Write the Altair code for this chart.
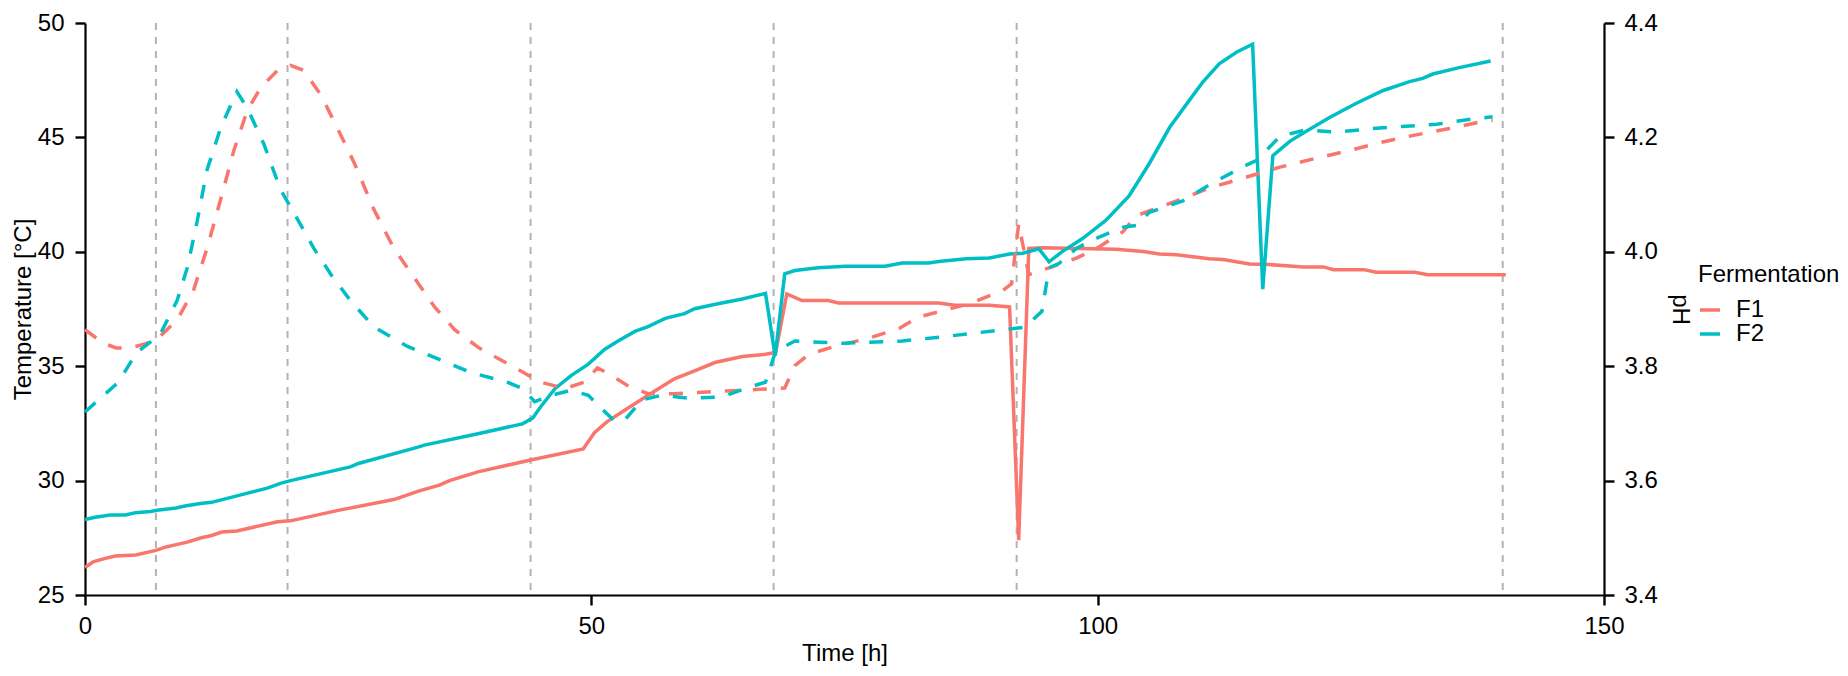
import altair as alt
import pandas as pd

# ---- data ----
phase_lines = [7, 20, 44, 68, 92, 140]

temp_f1_t = [0, 0.8, 2, 3, 5, 7, 8, 9, 10, 11.5, 12.5, 13.5, 15, 17, 19, 20.3, 25, 30.5, 32, 33,
             35, 36, 38.8, 44, 49.2, 50.3, 51.6, 53.6, 55.6, 58.2, 60.2, 62.2, 64.9, 67.2, 68.2,
             69.3, 70.8, 73.4, 74.4, 84.3, 85.9, 89.3, 91.3, 92.2, 93.2, 94.5, 101.8, 104.5,
             106.1, 107.8, 109.4, 111.0, 112.4, 115.0, 117.0, 119.3, 120.3, 122.3, 123.3, 126.3,
             127.5, 131.3, 132.6, 140.3]
temp_f1 = [26.2, 26.45, 26.6, 26.7, 26.75, 26.95, 27.1, 27.2, 27.3, 27.5, 27.6, 27.75, 27.8, 28.0,
           28.2, 28.24, 28.7, 29.17, 29.4, 29.55, 29.8, 30.0, 30.38, 30.9, 31.38, 32.09, 32.59,
           33.16, 33.73, 34.45, 34.8, 35.16, 35.42, 35.52, 35.6, 38.16, 37.87, 37.87, 37.76, 37.76,
           37.66, 37.66, 37.59, 27.4, 40.15, 40.18, 40.11, 40.01, 39.9, 39.87, 39.78, 39.7, 39.66,
           39.47, 39.44, 39.37, 39.34, 39.34, 39.22, 39.22, 39.11, 39.11, 39.0, 39.0]

temp_f2_t = [0, 1, 2.5, 4, 5, 6.5, 7.1, 9, 10, 11.4, 12.5, 18, 19.3, 20.3, 26.2, 27, 32.8, 33.5,
             38.8, 43.2, 44.2, 45.0, 46.4, 48.0, 49.7, 51.3, 52.6, 54.3, 55.6, 57.3, 59.2, 60.2,
             62.5, 64.9, 67.2, 68.15, 69.1, 70.1, 72.4, 75.1, 79.0, 80.7, 83.3, 84.3, 87.0, 89.3,
             91.3, 92.6, 94.2, 95.2, 96.5, 98.5, 100.8, 103.1, 105.1, 107.1, 109.1, 110.4, 112.0,
             113.7, 115.3, 116.3, 117.3, 119.0, 120.6, 122.9, 125.5, 128.2, 130.8, 132.1, 133.1,
             135.7, 138.8]
temp_f2 = [28.3, 28.4, 28.5, 28.5, 28.6, 28.65, 28.7, 28.8, 28.9, 29.0, 29.05, 29.67, 29.88, 30.0,
           30.6, 30.75, 31.45, 31.55, 32.05, 32.48, 32.73, 33.23, 34.02, 34.59, 35.09, 35.73,
           36.09, 36.52, 36.73, 37.09, 37.3, 37.51, 37.73, 37.94, 38.18, 35.45, 39.04, 39.18,
           39.3, 39.37, 39.37, 39.51, 39.51, 39.58, 39.7, 39.73, 39.9, 39.94, 40.13, 39.56, 40.01,
           40.58, 41.37, 42.44, 43.86, 45.43, 46.65, 47.43, 48.22, 48.72, 49.07, 38.37, 44.2,
           44.84, 45.27, 45.87, 46.48, 47.05, 47.44, 47.58, 47.77, 48.05, 48.34]

ph_f1_t = [0, 1.8, 3.1, 4.5, 6.1, 7.4, 9.1, 10.7, 12.05, 13.4, 14.7, 16.0, 17.3, 19.0, 20.3, 21.6,
           23.3, 24.9, 26.6, 28.5, 30.5, 32.5, 34.5, 36.5, 38.9, 42.1, 45.0, 47.4, 49.3, 50.6,
           51.6, 53.6, 55.6, 58.2, 61.5, 64.9, 69.1, 70.1, 71.5, 74.1, 77.4, 80.4, 82.3, 87.3,
           90.6, 91.5, 92.2, 93.2, 95.2, 97.9, 99.9, 102.5, 103.8, 107.8, 111.1, 114.4, 118.0,
           121.2, 124.6, 127.9, 131.3, 134.6, 138.0, 139.0]
ph_f1 = [3.864, 3.840, 3.832, 3.832, 3.840, 3.852, 3.881, 3.932, 4.006, 4.092, 4.177, 4.246,
         4.286, 4.317, 4.326, 4.317, 4.274, 4.217, 4.155, 4.075, 4.006, 3.955, 3.904, 3.864,
         3.832, 3.801, 3.772, 3.761, 3.772, 3.797, 3.788, 3.766, 3.752, 3.752, 3.755, 3.758,
         3.762, 3.801, 3.821, 3.835, 3.849, 3.866, 3.886, 3.909, 3.932, 3.944, 4.049, 3.960,
         3.972, 3.989, 4.006, 4.035, 4.063, 4.089, 4.112, 4.129, 4.148, 4.162, 4.176, 4.191,
         4.204, 4.215, 4.228, 4.230]

ph_f2_t = [0, 3.3, 5.1, 7.4, 9.1, 10.1, 11.06, 12.05, 13.4, 15.0, 16.0, 17.65, 19.3, 20.6, 22.6,
           24.3, 26.2, 28.5, 31.8, 35.1, 38.1, 41.7, 43.2, 44.4, 46.0, 48.0, 49.7, 51.0, 52.3,
           53.3, 55.0, 56.9, 59.6, 62.9, 65.2, 67.2, 68.2, 70.1, 74.8, 80.7, 85.0, 90.8, 92.8,
           94.5, 95.2, 96.2, 97.9, 99.8, 102.5, 103.8, 105.1, 108.4, 111.1, 114.4, 115.7, 117.3,
           118.0, 120.5, 123.6, 126.8, 130.0, 133.5, 136.9, 139.0]
ph_f2 = [3.720, 3.772, 3.824, 3.855, 3.915, 3.972, 4.052, 4.143, 4.217, 4.280, 4.252, 4.189,
         4.109, 4.069, 4.006, 3.960, 3.915, 3.869, 3.835, 3.811, 3.789, 3.772, 3.761, 3.738,
         3.749, 3.758, 3.749, 3.726, 3.704, 3.706, 3.741, 3.749, 3.744, 3.746, 3.761, 3.772,
         3.826, 3.844, 3.840, 3.844, 3.852, 3.864, 3.868, 3.896, 3.972, 3.980, 4.006, 4.023,
         4.043, 4.046, 4.069, 4.089, 4.118, 4.149, 4.160, 4.189, 4.202, 4.213, 4.209, 4.215,
         4.219, 4.223, 4.232, 4.236]

groups = ["F1", "F2"]
colors = ["#F8766D", "#00BFC4"]
x_ticks = [0, 50, 100, 150]
temp_ticks = [25, 30, 35, 40, 45, 50]
ph_ticks = [3.4, 3.6, 3.8, 4.0, 4.2, 4.4]

# ---- tables ----
temp_df = pd.concat([
    pd.DataFrame({"t": temp_f1_t, "value": temp_f1, "Fermentation": "F1"}),
    pd.DataFrame({"t": temp_f2_t, "value": temp_f2, "Fermentation": "F2"}),
])
ph_df = pd.concat([
    pd.DataFrame({"t": ph_f1_t, "value": ph_f1, "Fermentation": "F1"}),
    pd.DataFrame({"t": ph_f2_t, "value": ph_f2, "Fermentation": "F2"}),
])
vline_df = pd.DataFrame({"t": phase_lines})

FONT = "Liberation Sans"
FS = 24

xscale = alt.Scale(domain=[0, 150], nice=False, zero=False)
xaxis = alt.Axis(values=x_ticks, title="Time [h]", grid=False, labelFlush=False,
                 domainColor="black", domainWidth=2.2, tickColor="black", tickWidth=2.4,
                 tickSize=10, labelFontSize=FS, labelColor="black", labelPadding=9,
                 titleFontSize=FS, titleFontWeight="normal", titleColor="black",
                 titleBaseline="top", titleY=46, labelFont=FONT, titleFont=FONT)

cscale = alt.Scale(domain=groups, range=colors)
color_legend = alt.Color("Fermentation:N", scale=cscale,
                         legend=alt.Legend(orient="none", legendX=1613, legendY=240,
                                           title="Fermentation", titleFontSize=FS,
                                           titleFontWeight="normal", titleColor="black",
                                           titleFont=FONT, labelFont=FONT,
                                           labelFontSize=FS, labelColor="black",
                                           symbolType="stroke", symbolSize=400,
                                           symbolStrokeWidth=3.5, labelOffset=14,
                                           titlePadding=11, rowPadding=0, padding=0))
color_plain = alt.Color("Fermentation:N", scale=cscale, legend=None)

rules = alt.Chart(vline_df).mark_rule(color="#B3B3B3", strokeDash=[7, 7], strokeWidth=2).encode(
    x=alt.X("t:Q", scale=xscale, axis=xaxis)
)

temp_layer = alt.Chart(temp_df).mark_line(strokeWidth=3.5).encode(
    x=alt.X("t:Q", scale=xscale, axis=xaxis),
    y=alt.Y("value:Q", scale=alt.Scale(domain=[25, 50], nice=False, zero=False),
            axis=alt.Axis(values=temp_ticks, title="Temperature [°C]", grid=False,
                          labelFlush=False, domainColor="black", domainWidth=2.2,
                          tickColor="black", tickWidth=2.4, tickSize=10,
                          labelFontSize=FS, labelColor="black", labelPadding=11,
                          titleFontSize=FS, titleFontWeight="normal", titleColor="black",
                          titleX=-62, titleBaseline="middle", labelFont=FONT, titleFont=FONT)),
    color=color_legend,
)

ph_layer = alt.Chart(ph_df).mark_line(strokeWidth=3.5, strokeDash=[14, 14]).encode(
    x=alt.X("t:Q", scale=xscale, axis=xaxis),
    y=alt.Y("value:Q", scale=alt.Scale(domain=[3.4, 4.4], nice=False, zero=False),
            axis=alt.Axis(values=ph_ticks, format=".1f", orient="right", title="pH", grid=False,
                          labelFlush=False, domainColor="black", domainWidth=2.2,
                          tickColor="black", tickWidth=2.4, tickSize=10,
                          labelFontSize=FS, labelColor="black", labelPadding=10,
                          titleFontSize=FS, titleFontWeight="normal", titleColor="black",
                          titleX=75, titleBaseline="middle", labelFont=FONT, titleFont=FONT)),
    color=color_plain,
)

chart = alt.layer(rules, temp_layer, ph_layer).resolve_scale(
    y="independent"
).properties(
    width=1519, height=572,
    padding={"left": 77, "top": 15, "right": 236, "bottom": 73},
    autosize=alt.AutoSizeParams(type="none"),
    background="white",
).configure(font=FONT).configure_view(stroke=None)

chart.save("out.html", embed_options={"renderer": "svg", "actions": False})
